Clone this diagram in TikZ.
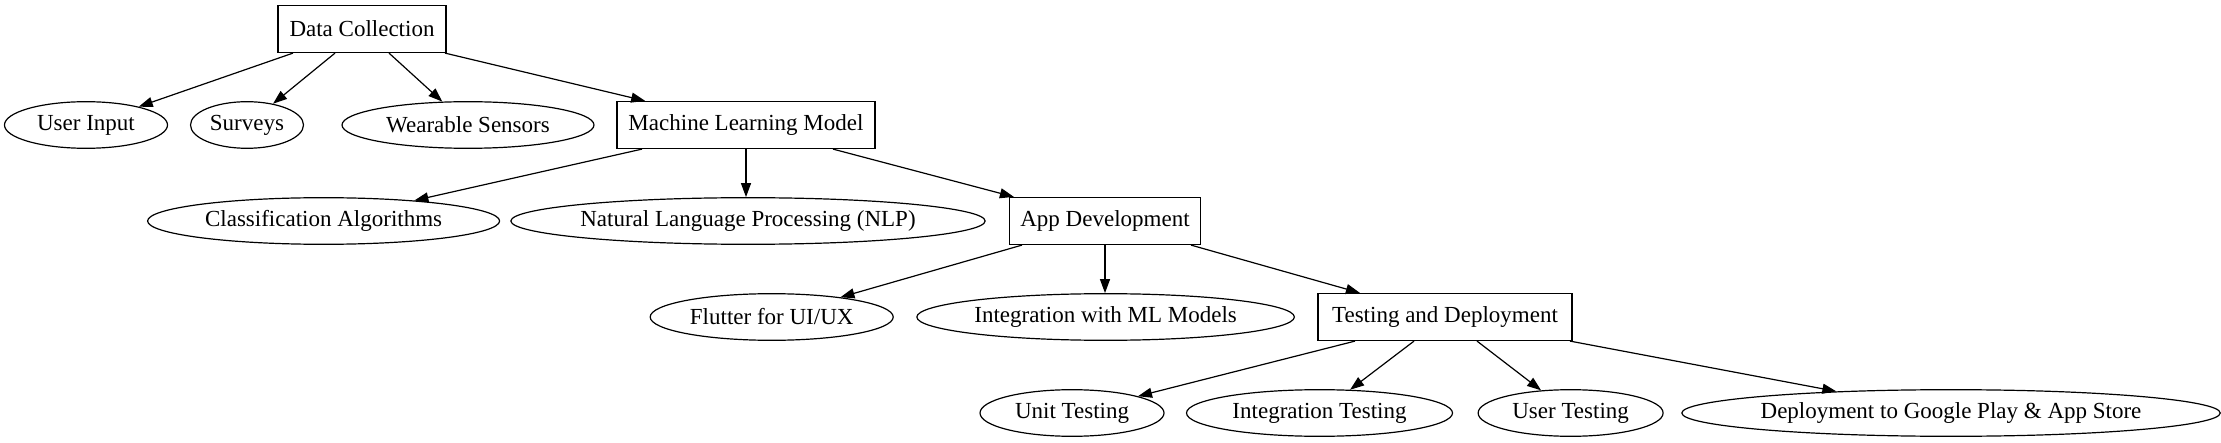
\documentclass[tikz,border=0pt]{standalone}
\usepackage{fontspec}
\setmainfont{Liberation Serif}
\usetikzlibrary{shapes.geometric,arrows.meta}
\tikzset{
  blk/.style={draw,rectangle,line width=0.6pt,minimum height=23.5pt,inner sep=0pt,font=\fontsize{11.5}{13.8}\selectfont},
  oval/.style={draw,ellipse,line width=0.6pt,minimum height=23.3pt,inner sep=0pt,font=\fontsize{11.5}{13.8}\selectfont},
  arr/.style={line width=0.6pt,-{Triangle[length=7pt,width=5pt]}}
}

\begin{document}
\begin{tikzpicture}[x=0.5pt,y=-0.5pt]
  \useasboundingbox (0,0) rectangle (2221,443);
  \node[blk,minimum width=84pt] (dc) at (362,29) {Data Collection};
  \node[oval,minimum width=81.5pt] (ui) at (86,125) {User Input};
  \node[oval,minimum width=56.5pt] (sv) at (247,125) {Surveys};
  \node[oval,minimum width=126pt] (ws) at (468,125) {Wearable Sensors};
  \node[blk,minimum width=129pt] (ml) at (746,125) {Machine Learning Model};
  \node[oval,minimum width=176pt] (ca) at (323.6,221) {Classification Algorithms};
  \node[oval,minimum width=237pt] (nlp) at (748,221) {Natural Language Processing (NLP)};
  \node[blk,minimum width=95.5pt] (app) at (1105,221) {App Development};
  \node[oval,minimum width=121.5pt] (fl) at (771.7,317) {Flutter for UI/UX};
  \node[oval,minimum width=188.75pt] (iml) at (1105.6,317) {Integration with ML Models};
  \node[blk,minimum width=127pt] (td) at (1445,317) {Testing and Deployment};
  \node[oval,minimum width=92pt] (ut) at (1072,413) {Unit Testing};
  \node[oval,minimum width=133pt] (it) at (1319.5,413) {Integration Testing};
  \node[oval,minimum width=92.5pt] (us) at (1570.6,413) {User Testing};
  \node[oval,minimum width=263.25pt] (dp) at (1951,413) {Deployment to Google Play \& App Store};

  \draw[arr] ([xshift=-34.5pt]dc.south) -- (ui);
  \draw[arr] ([xshift=-13.5pt]dc.south) -- (sv);
  \draw[arr] ([xshift=13.5pt]dc.south) -- (ws);
  \draw[arr] ([xshift=41.5pt]dc.south) -- (ml);
  \draw[arr] ([xshift=-52pt]ml.south) -- (ca);
  \draw[arr] (ml.south) -- (ml.south |- nlp.north);
  \draw[arr] ([xshift=43.5pt]ml.south) -- (app);
  \draw[arr] ([xshift=-41.5pt]app.south) -- (fl);
  \draw[arr] (app.south) -- (app.south |- iml.north);
  \draw[arr] ([xshift=43pt]app.south) -- (td);
  \draw[arr] ([xshift=-45pt]td.south) -- (ut);
  \draw[arr] ([xshift=-15.5pt]td.south) -- (it);
  \draw[arr] ([xshift=16pt]td.south) -- (us);
  \draw[arr] ([xshift=62.5pt]td.south) -- (dp);
\end{tikzpicture}
\end{document}
